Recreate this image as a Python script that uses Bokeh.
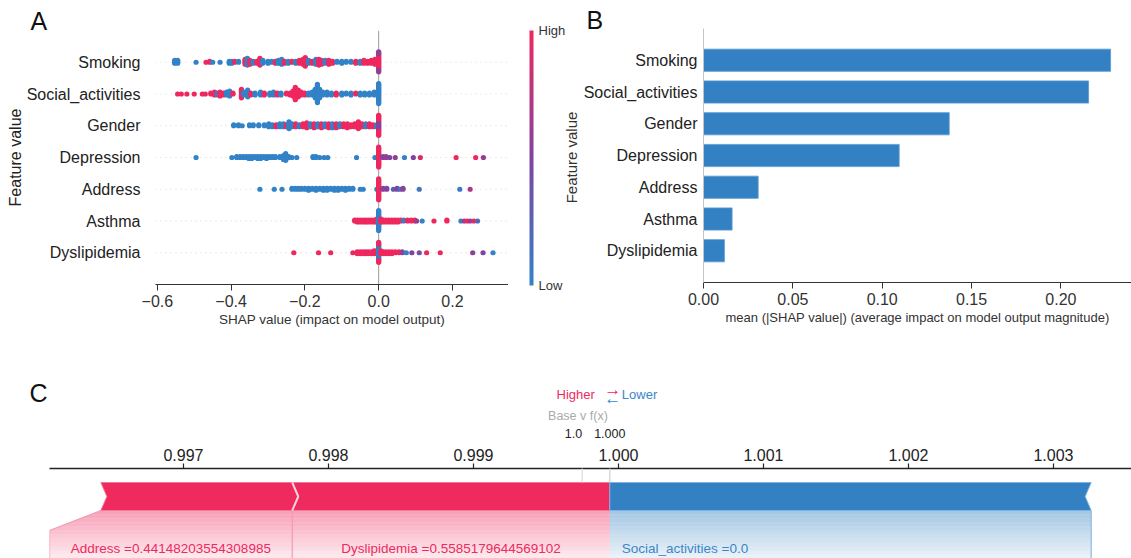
import numpy as np
from bokeh.plotting import figure
from bokeh.models import (Range1d, FixedTicker, ColumnDataSource, LinearColorMapper,
                          ColorBar, Label, Arrow, Span, PrintfTickFormatter, Title)
from bokeh.layouts import column, row
from bokeh.embed import file_html
from bokeh.resources import INLINE
from bokeh.transform import linear_cmap

# ---------------------------------------------------------------- data
FEATURES = ["Smoking", "Social_activities", "Gender", "Depression", "Address", "Asthma", "Dyslipidemia"]

# beeswarm clusters: SHAP value, number of samples, feature value (0 low .. 1 high)
smoking_shap = [-0.553, -0.545, -0.495, -0.468, -0.458, -0.45, -0.43, -0.405, -0.398, -0.39, -0.38, -0.362, -0.356, -0.349, -0.34, -0.33, -0.322, -0.314, -0.30, -0.29, -0.28, -0.272, -0.263, -0.255, -0.245, -0.235, -0.225, -0.215, -0.205, -0.199, -0.19, -0.18, -0.17, -0.162, -0.155, -0.145, -0.135, -0.125, -0.113, -0.10, -0.088, -0.075, -0.062, -0.05, -0.04, -0.03, -0.02, -0.01, 0.0, 0.0]
smoking_n = [4, 4, 1, 1, 2, 1, 1, 3, 3, 2, 2, 6, 8, 5, 3, 3, 8, 4, 3, 2, 3, 4, 6, 3, 3, 2, 3, 4, 6, 10, 4, 3, 6, 7, 5, 4, 5, 3, 2, 3, 2, 2, 3, 3, 4, 3, 4, 6, 16, 6]
smoking_val = [0, 0, 0, 1, 1, 0, 0, 0, 0, 1, 0, 1, 0, 1, 0, 1, 1, 0, 0, 0, 1, 0, 0, 1, 0, 1, 0, 1, 1, 1, 0, 1, 0, 1, 1, 0, 1, 1, 0, 0, 0, 0, 1, 0, 1, 1, 1, 1, 1, 0.6]

social_shap = [-0.545, -0.535, -0.52, -0.50, -0.478, -0.47, -0.455, -0.445, -0.437, -0.43, -0.42, -0.412, -0.404, -0.395, -0.372, -0.366, -0.355, -0.347, -0.335, -0.32, -0.31, -0.295, -0.285, -0.275, -0.265, -0.25, -0.24, -0.232, -0.226, -0.218, -0.21, -0.20, -0.19, -0.18, -0.172, -0.166, -0.16, -0.152, -0.14, -0.128, -0.115, -0.10, -0.088, -0.075, -0.062, -0.05, -0.038, -0.025, -0.012, 0.0]
social_n = [1, 1, 1, 1, 1, 1, 2, 4, 3, 5, 3, 4, 6, 2, 10, 4, 8, 3, 3, 4, 3, 3, 4, 3, 3, 2, 3, 6, 14, 8, 4, 3, 3, 4, 10, 20, 10, 4, 4, 3, 3, 3, 2, 3, 2, 3, 3, 3, 4, 22]
social_val = [1, 1, 1, 1, 1, 1, 1, 1, 0, 1, 1, 0, 0, 1, 1, 0, 0, 1, 0, 0, 1, 0, 0, 1, 0, 1, 1, 1, 1, 1, 1, 1, 0, 0, 0, 0, 0, 0, 0, 0, 1, 0, 0, 0, 1, 0, 0, 0, 0, 0]

gender_shap = [-0.393, -0.38, -0.37, -0.35, -0.34, -0.325, -0.31, -0.298, -0.288, -0.278, -0.268, -0.258, -0.25, -0.243, -0.235, -0.225, -0.215, -0.205, -0.195, -0.185, -0.175, -0.165, -0.155, -0.145, -0.135, -0.125, -0.115, -0.105, -0.095, -0.085, -0.075, -0.065, -0.055, -0.045, -0.035, -0.025, -0.015, -0.005, 0.0, 0.0]
gender_n = [2, 2, 1, 2, 2, 2, 2, 4, 3, 3, 4, 4, 3, 8, 4, 4, 3, 4, 6, 4, 5, 4, 5, 4, 5, 5, 5, 4, 4, 5, 3, 4, 8, 4, 4, 4, 3, 3, 12, 10]
gender_val = [0, 0, 0, 0, 0, 0, 0, 0, 0, 1, 0, 0, 1, 0, 0, 1, 0, 1, 1, 0, 1, 0, 1, 0, 1, 0, 1, 0, 1, 1, 1, 1, 1, 1, 0, 1, 1, 0, 0.55, 1]

depression_shap = [-0.495, -0.398, -0.385, -0.376, -0.368, -0.36, -0.352, -0.344, -0.336, -0.328, -0.32, -0.312, -0.304, -0.296, -0.288, -0.28, -0.268, -0.258, -0.252, -0.244, -0.235, -0.222, -0.178, -0.17, -0.16, -0.148, -0.138, -0.06, -0.01, 0.0, 0.012, 0.02, 0.03, 0.045, 0.07, 0.094, 0.113, 0.21, 0.263, 0.284]
depression_n = [1, 1, 2, 2, 2, 2, 3, 3, 2, 3, 3, 2, 3, 2, 2, 2, 2, 5, 8, 2, 1, 1, 2, 2, 1, 1, 1, 1, 1, 22, 2, 2, 1, 1, 1, 1, 1, 1, 1, 1]
depression_val = [0, 0, 0, 0, 0, 0, 0, 0, 0, 0, 0, 0, 0, 0, 0, 0, 0, 0, 0, 0, 0, 0, 0, 0, 0, 0, 0, 0, 0, 1, 0.5, 0.6, 0.5, 0.55, 0, 0.5, 0.9, 1, 1, 0.6]

address_shap = [-0.322, -0.283, -0.262, -0.235, -0.226, -0.218, -0.21, -0.20, -0.19, -0.18, -0.17, -0.16, -0.15, -0.14, -0.13, -0.12, -0.11, -0.10, -0.09, -0.08, -0.07, -0.05, -0.042, -0.005, 0.0, 0.012, 0.022, 0.04, 0.05, 0.058, 0.066, 0.11, 0.22, 0.248]
address_n = [1, 1, 1, 2, 2, 2, 2, 2, 3, 2, 3, 2, 3, 3, 2, 3, 3, 2, 3, 2, 2, 1, 1, 1, 22, 2, 2, 1, 2, 1, 2, 1, 1, 1]
address_val = [0, 0, 0, 0, 0, 0, 0, 0, 0, 0, 0, 0, 0, 0, 0, 0, 0, 0, 0, 0, 0, 0, 0, 0, 1, 0.55, 0.5, 0.3, 0.5, 0.15, 0.55, 0.1, 0.05, 0.7]

asthma_shap = [-0.065, -0.058, -0.05, -0.042, -0.035, -0.028, -0.02, -0.012, -0.005, 0.0, 0.006, 0.012, 0.02, 0.028, 0.036, 0.044, 0.052, 0.06, 0.068, 0.078, 0.088, 0.098, 0.103, 0.118, 0.15, 0.185, 0.223, 0.232, 0.24, 0.248, 0.258, 0.268]
asthma_n = [2, 3, 3, 3, 3, 3, 3, 3, 4, 22, 4, 3, 3, 3, 3, 3, 3, 2, 2, 2, 2, 2, 1, 1, 1, 2, 1, 1, 1, 1, 1, 1]
asthma_val = [1, 1, 1, 1, 1, 1, 1, 1, 1, 0, 1, 1, 1, 1, 1, 1, 1, 1, 0, 1, 1, 1, 0.6, 0, 1, 1, 0, 0.7, 1, 0.6, 1, 0.2]

dyslipidemia_shap = [-0.23, -0.163, -0.13, -0.07, -0.058, -0.05, -0.042, -0.035, -0.028, -0.02, -0.012, -0.005, 0.0, 0.0, 0.006, 0.012, 0.02, 0.028, 0.036, 0.045, 0.055, 0.064, 0.075, 0.09, 0.11, 0.13, 0.167, 0.255, 0.283, 0.31]
dyslipidemia_n = [1, 1, 1, 1, 3, 3, 3, 3, 3, 3, 4, 4, 16, 6, 4, 3, 3, 3, 3, 2, 2, 2, 1, 1, 1, 1, 1, 1, 1, 1]
dyslipidemia_val = [1, 1, 1, 1, 1, 1, 1, 1, 1, 1, 1, 1, 0, 1, 1, 1, 1, 1, 1, 1, 1, 0.6, 0, 0.5, 0.4, 1, 1, 0.55, 0.5, 0]

SWARM = [
    (smoking_shap, smoking_n, smoking_val),
    (social_shap, social_n, social_val),
    (gender_shap, gender_n, gender_val),
    (depression_shap, depression_n, depression_val),
    (address_shap, address_n, address_val),
    (asthma_shap, asthma_n, asthma_val),
    (dyslipidemia_shap, dyslipidemia_n, dyslipidemia_val),
]

# panel B: mean |SHAP|
mean_abs_shap = [0.2278, 0.2155, 0.1375, 0.1095, 0.0306, 0.0160, 0.0117]

# panel C: force plot
c_names = ["Address", "Dyslipidemia", "Social_activities"]
c_feature_values = ["0.44148203554308985", "0.5585179644569102", "0.0"]
c_effects = [0.00132, 0.00219, -0.00332]
base_value = 0.99975
c_ticks = [0.997, 0.998, 0.999, 1.000, 1.001, 1.002, 1.003]

A_ticks = [-0.6, -0.4, -0.2, 0.0, 0.2]
B_ticks = [0.0, 0.05, 0.10, 0.15, 0.20]

# ---------------------------------------------------------------- style
FONT = "Liberation Sans"
RED = "#ee2a5e"
BLUE = "#3380c2"
BLUE_TXT = "#3a86c8"
TXT = "#333333"


def make_palette():
    stops = [(0.0, (50, 130, 200)), (0.5, (128, 68, 160)), (1.0, (238, 40, 95))]
    pal = []
    for i in range(256):
        t = i / 255
        for (t0, c0), (t1, c1) in zip(stops[:-1], stops[1:]):
            if t0 <= t <= t1:
                u = (t - t0) / (t1 - t0)
                c = [int(round(a + (b - a) * u)) for a, b in zip(c0, c1)]
                pal.append("#%02x%02x%02x" % tuple(c))
                break
    return pal


PALETTE = make_palette()


def expand(vals, counts, feats):
    xs, cs = [], []
    for v, n, f in zip(vals, counts, feats):
        xs += [v] * n
        cs += [f] * n
    return np.array(xs, dtype=float), np.array(cs, dtype=float)


def swarm(shaps, nbins=100, row_height=0.4):
    lo, hi = shaps.min(), shaps.max()
    quant = np.round(nbins * (shaps - lo) / (hi - lo + 1e-8))
    inds = np.argsort(quant, kind="stable")
    ys = np.zeros(len(shaps))
    layer, last = 0, None
    for i in inds:
        if quant[i] != last:
            layer = 0
        ys[i] = np.ceil(layer / 2) * ((layer % 2) * 2 - 1)
        layer += 1
        last = quant[i]
    ys *= 0.9 * (row_height / np.max(ys + 1))
    return ys


def style_axis(ax, size="16px", color=TXT):
    ax.major_label_text_font = FONT
    ax.major_label_text_font_size = size
    ax.major_label_text_color = color
    ax.axis_label_text_font = FONT
    ax.axis_label_text_font_style = "normal"
    ax.minor_tick_line_color = None


def letter(text, offset, standoff):
    return Title(text=text, align="left", offset=offset, standoff=standoff, text_font=FONT,
                 text_font_size="25px", text_font_style="normal", text_color="#111111",
                 vertical_align="bottom")


def bare(p):
    p.grid.visible = False
    p.outline_line_color = None
    if hasattr(p, "frame_align"):
        p.frame_align = False


# ---------------------------------------------------------------- panel A
A_W, A_H = 508, 340
A_L, A_R, A_T, A_B = 155, 508, 30, 284
pA = figure(width=A_W, height=A_H, x_range=Range1d(-0.605, 0.352), y_range=Range1d(-1, 7),
            output_backend="svg", toolbar_location=None, title=None,
            min_border_left=A_L, min_border_right=A_W - A_R, min_border_top=A_T,
            min_border_bottom=A_H - A_B)
bare(pA)

nrow = len(FEATURES)
row_pos = [nrow - 1 - i for i in range(nrow)]
pA.segment(x0=pA.x_range.start, x1=pA.x_range.end, y0=row_pos, y1=row_pos,
           line_color="#cccccc", line_width=0.8, line_dash="1 4")
pA.add_layout(Span(location=0, dimension="height", line_color="#999999", line_width=1, level="underlay"))

xs_all, ys_all, cs_all = [], [], []
for i, (s, n, v) in enumerate(SWARM):
    x, c = expand(s, n, v)
    y = swarm(x) + row_pos[i]
    xs_all += list(x)
    ys_all += list(y)
    cs_all += list(c)
srcA = ColumnDataSource(dict(x=xs_all, y=ys_all, c=cs_all))
pA.scatter(x="x", y="y", source=srcA, size=5.2, line_color=None,
           fill_color=linear_cmap("c", PALETTE, 0, 1))

xa = pA.xaxis[0]
xa.ticker = FixedTicker(ticks=A_ticks)
xa.major_label_overrides = {t: ("%.1f" % t).replace("-", "\u2212") for t in A_ticks}
style_axis(xa)
xa.axis_line_color = TXT
xa.major_tick_line_color = TXT
xa.major_tick_out = 6
xa.major_tick_in = 0
xa.major_label_standoff = 4
xa.axis_label = "SHAP value (impact on model output)"
xa.axis_label_text_font_size = "13.5px"
xa.axis_label_text_color = TXT
xa.axis_label_standoff = 2

ya = pA.yaxis[0]
ya.ticker = FixedTicker(ticks=row_pos)
ya.major_label_overrides = {row_pos[i]: FEATURES[i] for i in range(nrow)}
style_axis(ya, color="#222222")
ya.axis_line_color = None
ya.major_tick_line_color = None
ya.major_tick_out = 0
ya.major_tick_in = 0
ya.major_label_standoff = 15
ya.axis_label = "Feature value"
ya.axis_label_text_font_size = "16px"
ya.axis_label_text_color = "#222222"
ya.axis_label_standoff = 0

pA.add_layout(letter("A", 30 - A_L, -9), "above")

# ---------------------------------------------------------------- colour bar strip
CB_W = 580 - A_W
pCB = figure(width=CB_W, height=A_H, x_range=Range1d(A_W, 580), y_range=Range1d(A_H, 0),
             output_backend="svg", toolbar_location=None, title=None,
             x_axis_location=None, y_axis_location=None,
             min_border_left=0, min_border_right=0, min_border_top=0, min_border_bottom=0)
bare(pCB)
mapper = LinearColorMapper(palette=PALETTE, low=0, high=1)
cb = ColorBar(color_mapper=mapper, location=(529 - A_W, A_H - 285), width=4, height=255,
              padding=0, margin=0, ticker=FixedTicker(ticks=[0, 1]),
              major_label_overrides={0: "Low", 1: "High"}, major_tick_line_color=None,
              bar_line_color=None, border_line_color=None, background_fill_alpha=0,
              label_standoff=5, major_label_text_font=FONT, major_label_text_font_size="13px",
              major_label_text_color=TXT)
pCB.add_layout(cb, "center")
pCB.add_layout(Label(x=571, y=157, text="Feature value", angle=np.pi / 2,
                     text_align="center", text_baseline="middle", text_font=FONT,
                     text_font_size="15px", text_color=TXT))

# ---------------------------------------------------------------- panel B
B_W = 551
B_L, B_R, B_T, B_B = 120, 551, 28, 282
pB = figure(width=B_W, height=A_H, x_range=Range1d(0, 0.2395), y_range=Range1d(-1, 7),
            output_backend="svg", toolbar_location=None, title=None,
            min_border_left=B_L, min_border_right=0, min_border_top=B_T,
            min_border_bottom=A_H - B_B)
bare(pB)
pB.hbar(y=row_pos, left=0, right=mean_abs_shap, height=0.7, fill_color=BLUE,
        line_color="#5a9bd4", line_width=0.8)

xb = pB.xaxis[0]
xb.ticker = FixedTicker(ticks=B_ticks)
xb.major_label_overrides = {t: "%.2f" % t for t in B_ticks}
style_axis(xb)
xb.axis_line_color = TXT
xb.major_tick_line_color = TXT
xb.major_tick_out = 6
xb.major_tick_in = 0
xb.major_label_standoff = 4
xb.axis_label = "mean (|SHAP value|) (average impact on model output magnitude)"
xb.axis_label_text_font_size = "13px"
xb.axis_label_text_color = TXT
xb.axis_label_standoff = 2

yb = pB.yaxis[0]
yb.ticker = FixedTicker(ticks=row_pos)
yb.major_label_overrides = {row_pos[i]: FEATURES[i] for i in range(nrow)}
style_axis(yb, color="#222222")
yb.axis_line_color = "#c4c4c4"
yb.major_tick_line_color = None
yb.major_tick_out = 0
yb.major_tick_in = 0
yb.major_label_standoff = 6

pB.add_layout(letter("B", 583 - 580 - B_L, -11), "above")

# ---------------------------------------------------------------- panel C
PXU = 145000.0          # pixels per output unit
C_L = 49
x0c = 0.997 - (183 - C_L) / PXU
x1c = x0c + (1131 - C_L) / PXU
AXIS_Y = 468            # page y of the force-plot axis
C1_H = 100              # texts strip: page y 340..440
C2_H = 118              # axis + bars: page y 440..558
C2_T = AXIS_Y - 340 - C1_H

# C1: headline texts (y = pixels above the axis line)
pC1 = figure(width=1131, height=C1_H, x_range=Range1d(x0c - C_L / PXU, x1c),
             y_range=Range1d(AXIS_Y - 340 - C1_H, AXIS_Y - 340),
             output_backend="svg", toolbar_location=None, title=None,
             x_axis_location=None, y_axis_location=None,
             min_border_left=0, min_border_right=0, min_border_top=0, min_border_bottom=0)
bare(pC1)

fx = base_value + sum(c_effects)


def clabel(p, x, y, text, align, size, color):
    p.add_layout(Label(x=x, y=y, text=text, text_align=align, text_baseline="middle",
                       text_font=FONT, text_font_size=size, text_color=color))


clabel(pC1, x0c - 11 / PXU, 76, "C", "center", "25px", "#111111")
clabel(pC1, fx - 15 / PXU, 74, "Higher", "right", "13px", RED)
clabel(pC1, fx + 3 / PXU, 79, "\u2192", "center", "17px", RED)
clabel(pC1, fx + 3 / PXU, 70, "\u2190", "center", "17px", BLUE_TXT)
clabel(pC1, fx + 12 / PXU, 74, "Lower", "left", "13px", BLUE_TXT)
clabel(pC1, fx - 2 / PXU, 53, "Base v f(x)", "right", "12.5px", "#aaaaaa")
clabel(pC1, base_value, 35, "1.0", "right", "12.5px", "#222222")
clabel(pC1, fx, 35, "%.3f" % fx, "center", "12.5px", "#222222")

# C2: axis and bars (y = pixels relative to the axis line)
pC = figure(width=1131, height=C2_H, x_range=Range1d(x0c, x1c),
            y_range=Range1d(-(C2_H - C2_T), 0), output_backend="svg", toolbar_location=None,
            title=None, x_axis_location="above", y_axis_location=None,
            min_border_left=C_L, min_border_right=0, min_border_top=C2_T, min_border_bottom=0)
bare(pC)

xc = pC.xaxis[0]
xc.ticker = FixedTicker(ticks=c_ticks)
xc.formatter = PrintfTickFormatter(format="%.3f")
style_axis(xc, size="16px", color="#222222")
xc.axis_line_color = "#222222"
xc.axis_line_width = 1.4
xc.major_tick_line_color = "#222222"
xc.major_tick_line_width = 1.2
xc.major_tick_out = 5
xc.major_tick_in = 0
xc.major_label_standoff = 3

dpx = 6.0 / PXU
TOP, MID, BOT, LOW = -14, -28, -42, -(C2_H - C2_T)

pos = sorted([(e, i) for i, e in enumerate(c_effects) if e > 0], reverse=True)
neg = sorted([(e, i) for i, e in enumerate(c_effects) if e < 0])
red_segs, blue_segs = [], []
s = fx
for e, i in pos:
    red_segs.append((s - e, s, i))
    s -= e
s = fx
for e, i in neg:
    blue_segs.append((s, s - e, i))
    s -= e
red_segs = sorted(red_segs)
r_start = red_segs[0][0]
b_end = blue_segs[-1][1]

# label boxes below the bars (fading gradient)
nb = 12
band_h = (BOT - LOW) / nb
kink = BOT - 20


def left_edge(xbar, xframe, y):
    if y >= kink:
        return xbar + (xframe - xbar) * (BOT - y) / (BOT - kink)
    return xframe


bx, by, bcol, balpha = [], [], [], []
for k in range(nb):
    ya_, yb_ = BOT - k * band_h, BOT - (k + 1) * band_h
    a = 0.45 * (1 - (k + 0.5) * band_h / 60.0)
    for j, (l, r, i) in enumerate(red_segs):
        if j == 0:
            pts = [(left_edge(l, x0c, ya_), ya_), (r, ya_), (r, yb_), (left_edge(l, x0c, yb_), yb_)]
            if yb_ < kink < ya_:
                pts.append((x0c, kink))
        else:
            pts = [(l, ya_), (r, ya_), (r, yb_), (l, yb_)]
        bx.append([p[0] for p in pts]); by.append([p[1] for p in pts])
        bcol.append(RED); balpha.append(a)
    for l, r, i in blue_segs:
        bx.append([l, r, r, l]); by.append([ya_, ya_, yb_, yb_])
        bcol.append(BLUE); balpha.append(a)
pC.patches(xs=bx, ys=by, fill_color=bcol, fill_alpha=balpha, line_color=None)

l0 = red_segs[0][0]
pC.line(x=[l0, x0c, x0c], y=[BOT, kink, LOW], line_color="#f29ab3", line_width=1.2)
for l, r, i in red_segs[:-1]:
    pC.line(x=[r, r], y=[BOT, LOW], line_color="#f29ab3", line_width=1.2)
pC.line(x=[b_end, b_end], y=[BOT, LOW], line_color="#8dbbe3", line_width=1.2)

# bars
pC.patch(x=[r_start, fx, fx, r_start, r_start + dpx], y=[TOP, TOP, BOT, BOT, MID],
         fill_color=RED, line_color="#f07a9a", line_width=1)
pC.patch(x=[fx, b_end, b_end - dpx, b_end, fx], y=[TOP, TOP, MID, BOT, BOT],
         fill_color=BLUE, line_color="#7fb3e3", line_width=1)
for l, r, i in red_segs[:-1]:
    pC.line(x=[r, r + dpx, r], y=[TOP, MID, BOT], line_color="#fbd3de", line_width=2)

for l, r, i in red_segs:
    left = x0c if l == r_start else l
    clabel(pC, (left + r) / 2, -80, "%s =%s" % (c_names[i], c_feature_values[i]), "center", "13.5px", RED)
for l, r, i in blue_segs:
    clabel(pC, l + 12 / PXU, -80, "%s =%s" % (c_names[i], c_feature_values[i]), "left", "13.5px", BLUE_TXT)

# base value / f(x) markers
pC.add_layout(Arrow(end=None, x_start=base_value, x_end=base_value, y_start=10, y_end=TOP,
                    line_color="#dddddd", line_width=1.2))
pC.add_layout(Arrow(end=None, x_start=fx, x_end=fx, y_start=28, y_end=TOP,
                    line_color="#d0d0d0", line_width=1.2))

layout = column(row(pA, pCB, pB), pC1, pC)
open("out.html", "w").write(file_html(layout, INLINE))
